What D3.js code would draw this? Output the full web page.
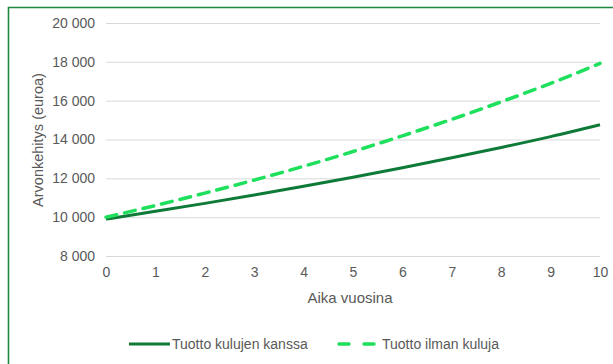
<!DOCTYPE html>
<html>
<head>
<meta charset="utf-8">
<script src="https://cdn.jsdelivr.net/npm/d3@7/dist/d3.min.js"></script>
<style>
  html, body { margin: 0; padding: 0; background: #fff; }
  svg { display: block; font-family: "Liberation Sans", Arial, sans-serif; }
</style>
</head>
<body>
<svg id="chart" width="613" height="364"></svg>
<script>
// Years on the x axis
const years = [0, 1, 2, 3, 4, 5, 6, 7, 8, 9, 10];
// Portfolio value with costs (euros)
const withCosts = [9900, 10300, 10710, 11140, 11590, 12060, 12550, 13060, 13590, 14150, 14760];
// Portfolio value without costs (euros)
const withoutCosts = [10000, 10600, 11240, 11910, 12620, 13380, 14190, 15040, 15940, 16890, 17920];
// Tick values
const yTicks = [8000, 10000, 12000, 14000, 16000, 18000, 20000];
const xTicks = [0, 1, 2, 3, 4, 5, 6, 7, 8, 9, 10];
const seriesNames = ["Tuotto kulujen kanssa", "Tuotto ilman kuluja"];

const svg = d3.select("#chart");
const W = 613, H = 364;

// Frame
svg.append("path")
  .attr("d", `M8.5,${H} L8.5,7.5 L${W},7.5`)
  .attr("fill", "none")
  .attr("stroke", "#1e8a3e")
  .attr("stroke-width", 1.6);

const x = d3.scaleLinear().domain([0, 10]).range([106, 600]);
const y = d3.scaleLinear().domain([8000, 20000]).range([256, 23]);

const fmt = v => d3.format(",")(v).replace(/,/g, "\u00a0");

// Gridlines and y labels
const yAxis = d3.axisLeft(y).tickValues(yTicks).tickSize(-(600 - 106)).tickPadding(11).tickFormat(fmt);
const gy = svg.append("g").attr("transform", "translate(106,0)").call(yAxis);
gy.select(".domain").remove();
gy.selectAll(".tick line").attr("stroke", "#d9d9d9").attr("stroke-width", 1);
gy.selectAll(".tick text").attr("fill", "#595959").attr("font-size", 14)
  .attr("font-family", "\"Liberation Sans\", Arial, sans-serif");

// X labels
const xAxis = d3.axisBottom(x).tickValues(xTicks).tickSize(0).tickPadding(11).tickFormat(d3.format("d"));
const gx = svg.append("g").attr("transform", "translate(0,256)").call(xAxis);
gx.select(".domain").remove();
gx.selectAll(".tick text").attr("fill", "#595959").attr("font-size", 14)
  .attr("font-family", "\"Liberation Sans\", Arial, sans-serif");

// Axis titles
svg.append("text")
  .attr("transform", "translate(43,140) rotate(-90)")
  .attr("text-anchor", "middle")
  .attr("fill", "#595959")
  .attr("font-size", 14.5)
  .text("Arvonkehitys (euroa)");

svg.append("text")
  .attr("x", 350).attr("y", 303)
  .attr("text-anchor", "middle")
  .attr("fill", "#595959")
  .attr("font-size", 15)
  .text("Aika vuosina");

// Lines
const line = d3.line().x((d, i) => x(years[i])).y(d => y(d)).curve(d3.curveMonotoneX);

svg.append("path")
  .datum(withCosts)
  .attr("d", line)
  .attr("fill", "none")
  .attr("stroke", "#0e7a38")
  .attr("stroke-width", 3);

svg.append("path")
  .datum(withoutCosts)
  .attr("d", line)
  .attr("fill", "none")
  .attr("stroke", "#1fe05c")
  .attr("stroke-width", 3.5)
  .attr("stroke-dasharray", "11,8")
  .attr("stroke-linecap", "round");

// Legend
const leg = svg.append("g");
leg.append("line").attr("x1", 129).attr("x2", 170).attr("y1", 344).attr("y2", 344)
  .attr("stroke", "#0e7a38").attr("stroke-width", 3);
leg.append("text").attr("x", 172).attr("y", 349).attr("fill", "#595959").attr("font-size", 14)
  .text(seriesNames[0]);
leg.append("line").attr("x1", 339).attr("x2", 378).attr("y1", 344).attr("y2", 344)
  .attr("stroke", "#1fe05c").attr("stroke-width", 3.5).attr("stroke-dasharray", "10,15")
  .attr("stroke-linecap", "round");
leg.append("text").attr("x", 382).attr("y", 349).attr("fill", "#595959").attr("font-size", 14)
  .text(seriesNames[1]);
</script>
</body>
</html>
